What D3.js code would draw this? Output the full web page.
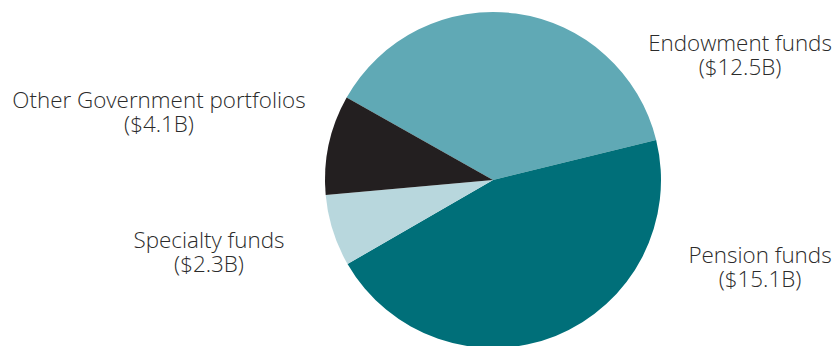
<!DOCTYPE html>
<html>
<head>
<meta charset="utf-8">
<script src="https://cdn.jsdelivr.net/npm/d3@7"></script>
<style>
  body { margin: 0; background: #fff; }
  .lbl { font-family: "Open Sans", "DejaVu Sans", sans-serif; font-size: 22.4px; font-weight: 300; fill: #2b2b2b; }
</style>
</head>
<body>
<script>
const w = 839;
const h = 346;

// slices, in drawing order (clockwise, starting at the upper left)
const names = ["Endowment funds", "Pension funds", "Specialty funds", "Other Government portfolios"];
const amounts = ["$12.5B", "$15.1B", "$2.3B", "$4.1B"];
// share of the circle each slice takes (%)
const shares = [38.0, 45.5, 6.9, 9.6];
const colors = ["#60a9b5", "#006f79", "#b8d7dd", "#231f20"];
// label centre and first-line baseline for each slice
const labelPos = [[740, 51], [760, 263], [209, 248], [159, 108]];

const cx = 493;
const cy = 180;
const r = 168;
const start = -60.6 * Math.PI / 180;

const svg = d3
  .select("body")
  .append("svg")
  .attr("width", w)
  .attr("height", h);

const pie = d3
  .pie()
  .sort(null)
  .value((d) => d)
  .startAngle(start)
  .endAngle(start + 2 * Math.PI);

const arc = d3.arc().innerRadius(0).outerRadius(r);

svg
  .append("g")
  .attr("transform", `translate(${cx}, ${cy})`)
  .selectAll("path")
  .data(pie(shares))
  .enter()
  .append("path")
  .attr("d", arc)
  .attr("fill", (d, i) => colors[i]);

const label = svg
  .selectAll("text")
  .data(names)
  .enter()
  .append("text")
  .attr("class", "lbl")
  .attr("text-anchor", "middle");

label
  .append("tspan")
  .attr("x", (d, i) => labelPos[i][0])
  .attr("y", (d, i) => labelPos[i][1])
  .text((d) => d);

label
  .append("tspan")
  .attr("x", (d, i) => labelPos[i][0])
  .attr("y", (d, i) => labelPos[i][1] + 24)
  .text((d, i) => `(${amounts[i]})`);
</script>
</body>
</html>
